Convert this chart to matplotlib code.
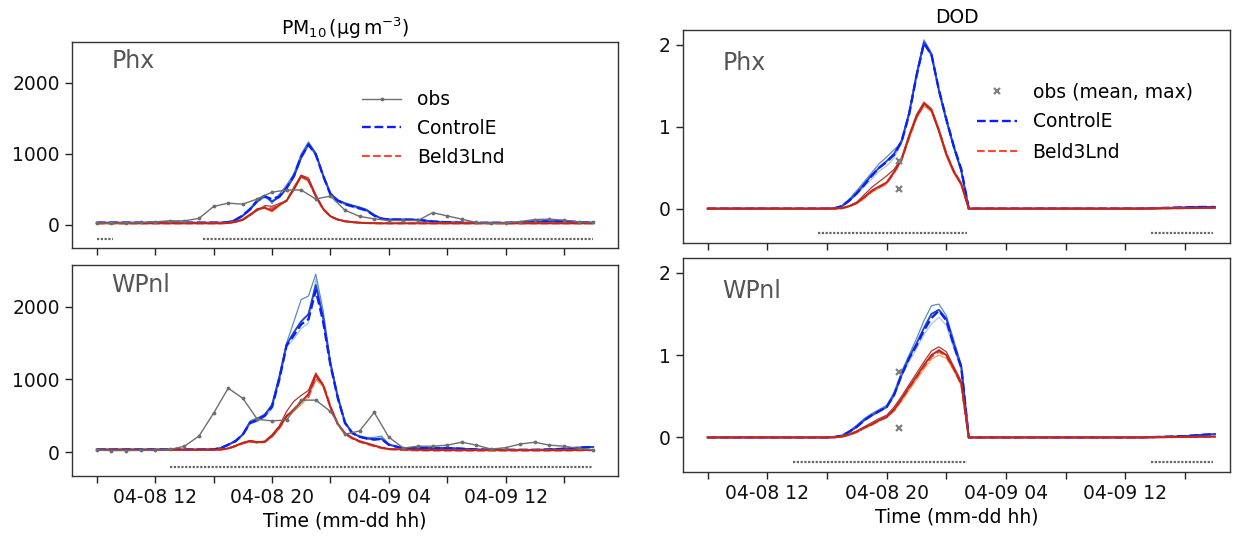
import matplotlib
matplotlib.use('Agg')
import matplotlib.pyplot as plt
from matplotlib.lines import Line2D

plt.rcParams['font.family'] = 'DejaVu Sans'
plt.rcParams['font.size'] = 13.5

# ---------------- time axes (hours after 04-08 08:00) ----------------
obs_hours = [0, 1, 2, 3, 4, 5, 6, 7, 8, 9, 10, 11, 12, 13, 14, 15, 16, 17, 18, 19, 20,
             21, 22, 23, 24, 25, 26, 27, 28, 29, 30, 31, 32, 33, 34]
model_hours = [0, 1, 2, 3, 4, 5, 6, 7, 8,
               8.5, 9, 9.5, 10, 10.5, 11, 11.5, 12, 12.5, 13, 13.5, 14, 14.5, 15, 15.5, 16,
               16.5, 17, 17.5, 18, 18.5, 19, 19.5, 20,
               21, 22, 23, 24, 25, 26, 27, 28, 29, 30, 31, 32, 33, 34]
tick_hours = [0, 4, 8, 12, 16, 20, 24, 28, 32]
tick_labels = ['', '04-08 12', '', '04-08 20', '', '04-09 04', '', '04-09 12', '']

# ---------------- PM10, Phx ----------------
phx_pm_obs = [23, 23, 23, 32, 42, 56, 56, 90, 258, 305, 290, 365, 460, 490, 490, 363, 405,
              205, 118, 83, 60, 60, 60, 171, 125, 79, 32, 18, 23, 46, 74, 79, 65, 42, 32]
phx_pm_ctl = [30, 30, 30, 30, 30, 30, 30, 30, 30,
              30, 35, 70, 130, 220, 340, 400, 360, 400, 520, 690, 960, 1130, 990, 690, 430,
              340, 290, 260, 230, 200, 130, 85, 74,
              72, 70, 45, 35, 30, 28, 28, 28, 32, 42, 48, 48, 38, 32]
phx_pm_ctl_solid = [30, 30, 30, 30, 30, 30, 30, 30, 30,
                    30, 35, 65, 125, 215, 335, 410, 330, 390, 515, 680, 950, 1140, 1000, 700, 440,
                    345, 300, 270, 240, 205, 135, 88, 75,
                    72, 70, 46, 36, 30, 28, 28, 28, 32, 40, 46, 46, 36, 30]
phx_pm_blue_m1 = [30, 30, 30, 30, 30, 30, 30, 30, 30,
                  30, 36, 75, 140, 235, 360, 420, 300, 430, 560, 720, 1000, 1170, 1010, 700, 450,
                  350, 310, 275, 250, 215, 140, 90, 78,
                  80, 75, 50, 38, 32, 30, 28, 30, 35, 55, 60, 55, 40, 32]
phx_pm_blue_m2 = [30, 30, 30, 30, 30, 30, 30, 30, 30,
                  30, 34, 68, 128, 210, 320, 380, 340, 380, 500, 670, 930, 1110, 980, 680, 420,
                  330, 280, 250, 220, 190, 125, 80, 70,
                  68, 66, 44, 34, 30, 28, 28, 28, 30, 40, 44, 44, 36, 30]
phx_pm_beld = [20, 20, 20, 20, 20, 20, 20, 20, 20,
               20, 25, 42, 72, 135, 210, 250, 230, 290, 340, 520, 680, 620, 400, 220, 118,
               72, 48, 36, 28, 24, 21, 20, 20,
               20, 20, 20, 20, 20, 20, 20, 20, 20, 20, 20, 20, 20, 20]
phx_pm_red_solid = [20, 20, 20, 20, 20, 20, 20, 20, 20,
                    20, 25, 40, 70, 140, 220, 240, 200, 280, 340, 500, 690, 630, 410, 225, 120,
                    75, 50, 38, 30, 25, 22, 20, 20,
                    20, 20, 20, 20, 20, 20, 20, 20, 20, 20, 20, 20, 20, 20]
phx_pm_red_m1 = [20, 20, 20, 20, 20, 20, 20, 20, 20,
                 20, 26, 45, 78, 150, 200, 270, 260, 300, 330, 530, 700, 660, 420, 230, 122,
                 74, 50, 37, 29, 24, 21, 20, 20,
                 20, 20, 20, 20, 20, 20, 20, 20, 20, 20, 20, 20, 20, 20]
phx_pm_red_m2 = [20, 20, 20, 20, 20, 20, 20, 20, 20,
                 20, 24, 38, 66, 130, 230, 230, 180, 260, 350, 490, 670, 610, 395, 218, 115,
                 70, 46, 35, 28, 23, 21, 20, 20,
                 20, 20, 20, 20, 20, 20, 20, 20, 20, 20, 20, 20, 20, 20]
phx_pm_avail = [(0, 1.1), (7.3, 34)]

# ---------------- PM10, WPnl ----------------
wp_pm_obs = [25, 20, 20, 22, 22, 35, 80, 220, 535, 880, 740, 450, 430, 440, 715, 715, 560,
             245, 290, 545, 205, 55, 80, 80, 95, 135, 95, 40, 60, 110, 135, 95, 80, 50, 30]
wp_pm_ctl = [35, 35, 35, 35, 35, 35, 35, 35, 37,
             55, 100, 150, 240, 400, 440, 500, 620, 1000, 1470, 1610, 1760, 1830, 2230, 1800, 1200,
             750, 400, 260, 210, 185, 172, 180, 100,
             50, 55, 55, 55, 45, 35, 32, 30, 30, 30, 35, 45, 60, 70]
wp_pm_ctl_solid = [35, 35, 35, 35, 35, 35, 35, 35, 37,
                   55, 100, 150, 240, 410, 450, 510, 640, 1020, 1480, 1650, 1800, 1900, 2300, 1850, 1220,
                   760, 405, 262, 212, 186, 174, 182, 102,
                   50, 55, 55, 55, 45, 35, 32, 30, 30, 30, 35, 45, 60, 70]
wp_pm_blue_m1 = [35, 35, 35, 35, 35, 35, 35, 35, 38,
                 55, 105, 160, 250, 430, 470, 520, 660, 1060, 1500, 1800, 2100, 2150, 2450, 1950, 1250,
                 780, 420, 270, 220, 200, 200, 220, 110,
                 50, 58, 60, 58, 48, 36, 32, 30, 30, 30, 36, 46, 62, 72]
wp_pm_blue_m2 = [35, 35, 35, 35, 35, 35, 35, 35, 36,
                 52, 95, 140, 230, 390, 420, 480, 600, 980, 1450, 1560, 1700, 1780, 2380, 1900, 1220,
                 740, 395, 255, 205, 190, 185, 200, 100,
                 50, 54, 54, 54, 44, 35, 32, 30, 30, 30, 34, 44, 58, 68]
wp_pm_beld = [30, 30, 30, 30, 30, 30, 30, 30, 30,
              34, 48, 80, 120, 145, 130, 138, 215, 330, 490, 590, 700, 760, 1020, 940, 630,
              385, 250, 185, 140, 110, 80, 55, 38,
              28, 22, 20, 20, 20, 20, 20, 20, 20, 20, 20, 20, 22, 25]
wp_pm_red_solid = [30, 30, 30, 30, 30, 30, 30, 30, 30,
                   35, 50, 85, 125, 150, 135, 140, 220, 340, 500, 580, 690, 800, 1060, 920, 620,
                   390, 260, 195, 150, 120, 90, 60, 42,
                   35, 30, 28, 26, 25, 25, 25, 25, 25, 25, 25, 25, 28, 30]
wp_pm_red_m1 = [30, 30, 30, 30, 30, 30, 30, 30, 30,
                36, 52, 88, 130, 160, 140, 150, 240, 360, 560, 700, 780, 850, 1090, 930, 620,
                390, 255, 190, 145, 115, 85, 58, 40,
                35, 30, 28, 26, 25, 25, 25, 25, 25, 25, 25, 25, 28, 30]
wp_pm_red_m2 = [30, 30, 30, 30, 30, 30, 30, 30, 30,
                33, 46, 80, 118, 140, 128, 135, 210, 320, 480, 560, 650, 760, 1000, 900, 610,
                380, 250, 190, 145, 118, 88, 58, 40,
                35, 30, 28, 26, 25, 25, 25, 25, 25, 25, 25, 25, 28, 30]
wp_pm_avail = [(5.0, 34)]

# ---------------- DOD, Phx ----------------
phx_dod_obs_hour = [12.8, 12.8]
phx_dod_obs = [0.585, 0.245]
phx_dod_ctl = [0, 0, 0, 0, 0, 0, 0, 0, 0,
               0.005, 0.03, 0.10, 0.19, 0.29, 0.40, 0.50, 0.57, 0.66, 0.82, 1.15, 1.62, 2.02, 1.88, 1.45, 1.09,
               0.76, 0.48, 0, 0, 0, 0, 0, 0,
               0, 0, 0, 0, 0, 0, 0, 0, 0, 0.005, 0.01, 0.015, 0.02, 0.02]
phx_dod_ctl_solid = [0, 0, 0, 0, 0, 0, 0, 0, 0,
                     0.005, 0.03, 0.10, 0.19, 0.30, 0.41, 0.50, 0.58, 0.67, 0.83, 1.16, 1.63, 2.03, 1.88, 1.44, 1.08,
                     0.75, 0.46, 0, 0, 0, 0, 0, 0,
                     0, 0, 0, 0, 0, 0, 0, 0, 0, 0.005, 0.01, 0.015, 0.02, 0.02]
phx_dod_blue_m1 = [0, 0, 0, 0, 0, 0, 0, 0, 0,
                   0.006, 0.035, 0.12, 0.22, 0.33, 0.44, 0.55, 0.63, 0.72, 0.80, 1.18, 1.65, 2.06, 1.90, 1.46, 1.10,
                   0.77, 0.48, 0, 0, 0, 0, 0, 0,
                   0, 0, 0, 0, 0, 0, 0, 0, 0, 0.005, 0.01, 0.015, 0.02, 0.02]
phx_dod_blue_m2 = [0, 0, 0, 0, 0, 0, 0, 0, 0,
                   0.004, 0.025, 0.09, 0.17, 0.27, 0.36, 0.46, 0.52, 0.62, 0.80, 1.12, 1.60, 2.00, 1.86, 1.44, 1.07,
                   0.74, 0.46, 0, 0, 0, 0, 0, 0,
                   0, 0, 0, 0, 0, 0, 0, 0, 0, 0.004, 0.008, 0.012, 0.016, 0.018]
phx_dod_beld = [0, 0, 0, 0, 0, 0, 0, 0, 0,
                0, 0.005, 0.03, 0.07, 0.14, 0.21, 0.26, 0.31, 0.44, 0.60, 0.87, 1.12, 1.27, 1.21, 0.96, 0.67,
                0.46, 0.30, 0, 0, 0, 0, 0, 0,
                0, 0, 0, 0, 0, 0, 0, 0, 0, 0.002, 0.004, 0.006, 0.008, 0.01]
phx_dod_red_solid = [0, 0, 0, 0, 0, 0, 0, 0, 0,
                     0, 0.005, 0.03, 0.07, 0.14, 0.22, 0.27, 0.32, 0.45, 0.60, 0.88, 1.12, 1.28, 1.20, 0.95, 0.66,
                     0.45, 0.30, 0, 0, 0, 0, 0, 0,
                     0, 0, 0, 0, 0, 0, 0, 0, 0, 0.002, 0.004, 0.006, 0.008, 0.01]
phx_dod_red_m1 = [0, 0, 0, 0, 0, 0, 0, 0, 0,
                  0, 0.006, 0.035, 0.08, 0.17, 0.26, 0.33, 0.40, 0.48, 0.62, 0.90, 1.15, 1.30, 1.22, 0.97, 0.68,
                  0.46, 0.31, 0, 0, 0, 0, 0, 0,
                  0, 0, 0, 0, 0, 0, 0, 0, 0, 0.002, 0.004, 0.006, 0.008, 0.01]
phx_dod_red_m2 = [0, 0, 0, 0, 0, 0, 0, 0, 0,
                  0, 0.004, 0.025, 0.06, 0.12, 0.20, 0.25, 0.30, 0.43, 0.58, 0.85, 1.10, 1.25, 1.18, 0.93, 0.64,
                  0.43, 0.28, 0, 0, 0, 0, 0, 0,
                  0, 0, 0, 0, 0, 0, 0, 0, 0, 0.002, 0.004, 0.006, 0.008, 0.01]
phx_dod_avail = [(7.4, 17.4), (29.7, 33.9)]

# ---------------- DOD, WPnl ----------------
wp_dod_obs_hour = [12.8, 12.8]
wp_dod_obs = [0.79, 0.12]
wp_dod_ctl = [0, 0, 0, 0, 0, 0, 0, 0, 0,
              0.005, 0.02, 0.07, 0.13, 0.21, 0.27, 0.32, 0.37, 0.52, 0.76, 0.96, 1.12, 1.30, 1.45, 1.54, 1.42,
              1.12, 0.85, 0, 0, 0, 0, 0, 0,
              0, 0, 0, 0, 0, 0, 0, 0, 0, 0.005, 0.01, 0.015, 0.03, 0.04]
wp_dod_ctl_solid = [0, 0, 0, 0, 0, 0, 0, 0, 0,
                    0.005, 0.02, 0.07, 0.13, 0.21, 0.27, 0.32, 0.37, 0.52, 0.76, 0.97, 1.14, 1.33, 1.50, 1.55, 1.44,
                    1.13, 0.86, 0, 0, 0, 0, 0, 0,
                    0, 0, 0, 0, 0, 0, 0, 0, 0, 0.005, 0.01, 0.015, 0.03, 0.04]
wp_dod_blue_m1 = [0, 0, 0, 0, 0, 0, 0, 0, 0,
                  0.006, 0.025, 0.08, 0.15, 0.23, 0.29, 0.34, 0.39, 0.55, 0.80, 1.00, 1.20, 1.42, 1.60, 1.62, 1.48,
                  1.18, 0.88, 0, 0, 0, 0, 0, 0,
                  0, 0, 0, 0, 0, 0, 0, 0, 0, 0.005, 0.01, 0.015, 0.03, 0.04]
wp_dod_blue_m2 = [0, 0, 0, 0, 0, 0, 0, 0, 0,
                  0.004, 0.018, 0.06, 0.12, 0.20, 0.26, 0.31, 0.36, 0.50, 0.74, 0.92, 1.08, 1.25, 1.38, 1.46, 1.36,
                  1.08, 0.82, 0, 0, 0, 0, 0, 0,
                  0, 0, 0, 0, 0, 0, 0, 0, 0, 0.004, 0.008, 0.012, 0.025, 0.035]
wp_dod_beld = [0, 0, 0, 0, 0, 0, 0, 0, 0,
               0.002, 0.01, 0.033, 0.068, 0.115, 0.155, 0.205, 0.245, 0.33, 0.46, 0.60, 0.73, 0.86, 0.98, 1.04, 0.99,
               0.83, 0.64, 0, 0, 0, 0, 0, 0,
               0, 0, 0, 0, 0, 0, 0, 0, 0, 0.002, 0.004, 0.006, 0.008, 0.01]
wp_dod_red_solid = [0, 0, 0, 0, 0, 0, 0, 0, 0,
                    0.002, 0.01, 0.035, 0.07, 0.12, 0.16, 0.21, 0.25, 0.34, 0.47, 0.61, 0.74, 0.88, 1.00, 1.06, 1.00,
                    0.84, 0.66, 0, 0, 0, 0, 0, 0,
                    0, 0, 0, 0, 0, 0, 0, 0, 0, 0.002, 0.004, 0.006, 0.008, 0.01]
wp_dod_red_m1 = [0, 0, 0, 0, 0, 0, 0, 0, 0,
                 0.003, 0.012, 0.04, 0.08, 0.13, 0.18, 0.23, 0.27, 0.37, 0.50, 0.64, 0.78, 0.92, 1.05, 1.10, 1.04,
                 0.86, 0.68, 0, 0, 0, 0, 0, 0,
                 0, 0, 0, 0, 0, 0, 0, 0, 0, 0.002, 0.004, 0.006, 0.008, 0.01]
wp_dod_red_m2 = [0, 0, 0, 0, 0, 0, 0, 0, 0,
                 0.002, 0.009, 0.03, 0.06, 0.11, 0.15, 0.20, 0.24, 0.32, 0.44, 0.57, 0.70, 0.83, 0.95, 1.00, 0.96,
                 0.81, 0.63, 0, 0, 0, 0, 0, 0,
                 0, 0, 0, 0, 0, 0, 0, 0, 0, 0.002, 0.004, 0.006, 0.008, 0.01]
wp_dod_avail = [(5.7, 17.4), (29.7, 33.9)]

# ---------------- styles ----------------
C_OBS = '#6e6e6e'
C_BLUE = '#0a1eff'
C_BLUE_SOLID = '#2048c0'
C_BLUE_M1 = '#5a8bbf'
C_BLUE_M2 = '#a8c6e4'
C_RED = '#f44a38'
C_RED_SOLID = '#c0261c'
C_RED_M1 = '#a83a3a'
C_RED_M2 = '#f6a25a'
C_LABEL = '#555555'
C_SPINE = '#333333'

fig = plt.figure(figsize=(12.41, 5.36), dpi=100)
ax_pm_phx = fig.add_axes([0.058, 0.537, 0.440, 0.385])
ax_pm_wp = fig.add_axes([0.058, 0.112, 0.440, 0.394])
ax_dod_phx = fig.add_axes([0.5504, 0.5466, 0.4406, 0.3974])
ax_dod_wp = fig.add_axes([0.5504, 0.1194, 0.4406, 0.3993])


def draw_models(ax, ctl, ctl_solid, bm1, bm2, beld, rsolid, rm1, rm2):
    ax.plot(model_hours, bm2, color=C_BLUE_M2, lw=0.9, zorder=2)
    ax.plot(model_hours, bm1, color=C_BLUE_M1, lw=0.9, zorder=2)
    ax.plot(model_hours, ctl_solid, color=C_BLUE_SOLID, lw=1.4, zorder=3)
    ax.plot(model_hours, ctl, color=C_BLUE, lw=1.7, ls='--', zorder=4)
    ax.plot(model_hours, rm2, color=C_RED_M2, lw=0.9, zorder=5)
    ax.plot(model_hours, rm1, color=C_RED_M1, lw=0.9, zorder=5)
    ax.plot(model_hours, beld, color=C_RED, lw=1.5, ls='--', zorder=6)
    ax.plot(model_hours, rsolid, color=C_RED_SOLID, lw=1.4, zorder=6)


def draw_avail(ax, segs, yval):
    for s, e in segs:
        ax.plot([s, e], [yval, yval], color='#666666', lw=1.6,
                ls=(0, (1.0, 0.7)), solid_capstyle='butt', zorder=2)


def style(ax, name, label_y, show_xlabels, xlim):
    ax.set_xlim(*xlim)
    ax.set_xticks(tick_hours)
    if show_xlabels:
        ax.set_xticklabels(tick_labels)
        ax.set_xlabel('Time (mm-dd hh)', labelpad=3)
    else:
        ax.set_xticklabels([])
    ax.tick_params(axis='both', length=5.2, width=1.0, color='#222222', labelcolor='#111111')
    for sp in ax.spines.values():
        sp.set_color(C_SPINE)
        sp.set_linewidth(1.0)
    ax.text(0.072, label_y, name, transform=ax.transAxes, fontsize=17,
            color=C_LABEL, ha='left', va='center')


# PM10 panels
ax_pm_phx.plot(obs_hours, phx_pm_obs, color=C_OBS, lw=1.0, marker='.', ms=3.5, zorder=7)
draw_models(ax_pm_phx, phx_pm_ctl, phx_pm_ctl_solid, phx_pm_blue_m1, phx_pm_blue_m2,
            phx_pm_beld, phx_pm_red_solid, phx_pm_red_m1, phx_pm_red_m2)
draw_avail(ax_pm_phx, phx_pm_avail, -200)

ax_pm_wp.plot(obs_hours, wp_pm_obs, color=C_OBS, lw=1.0, marker='.', ms=3.5, zorder=7)
draw_models(ax_pm_wp, wp_pm_ctl, wp_pm_ctl_solid, wp_pm_blue_m1, wp_pm_blue_m2,
            wp_pm_beld, wp_pm_red_solid, wp_pm_red_m1, wp_pm_red_m2)
draw_avail(ax_pm_wp, wp_pm_avail, -200)

for ax in (ax_pm_phx, ax_pm_wp):
    ax.set_ylim(-330, 2580)
    ax.set_yticks([0, 1000, 2000])
style(ax_pm_phx, 'Phx', 0.905, False, (-1.7, 35.7))
style(ax_pm_wp, 'WPnl', 0.905, True, (-1.7, 35.7))
ax_pm_phx.set_title(r'PM$_{10}\,(\mathrm{\mu g\,m^{-3}})$', fontsize=13.5, pad=5)

h_obs = Line2D([], [], color=C_OBS, lw=1.0, marker='.', ms=3.5)
h_b = Line2D([], [], color=C_BLUE, lw=1.7, ls='--')
h_r = Line2D([], [], color=C_RED, lw=1.5, ls='--')
ax_pm_phx.legend([h_obs, h_b, h_r], ['obs', 'ControlE', 'Beld3Lnd'], loc='upper left',
                 bbox_to_anchor=(0.531, 0.766), frameon=False, borderpad=0, borderaxespad=0,
                 handlelength=2.1, handletextpad=0.85, labelspacing=0.52, fontsize=13.5)

# DOD panels
ax_dod_phx.plot(phx_dod_obs_hour, phx_dod_obs, ls='none', marker='x', ms=5, mew=1.6,
                color='#808080', zorder=8)
draw_models(ax_dod_phx, phx_dod_ctl, phx_dod_ctl_solid, phx_dod_blue_m1, phx_dod_blue_m2,
            phx_dod_beld, phx_dod_red_solid, phx_dod_red_m1, phx_dod_red_m2)
draw_avail(ax_dod_phx, phx_dod_avail, -0.3)

ax_dod_wp.plot(wp_dod_obs_hour, wp_dod_obs, ls='none', marker='x', ms=5, mew=1.6,
               color='#808080', zorder=8)
draw_models(ax_dod_wp, wp_dod_ctl, wp_dod_ctl_solid, wp_dod_blue_m1, wp_dod_blue_m2,
            wp_dod_beld, wp_dod_red_solid, wp_dod_red_m1, wp_dod_red_m2)
draw_avail(ax_dod_wp, wp_dod_avail, -0.3)

for ax in (ax_dod_phx, ax_dod_wp):
    ax.set_ylim(-0.42, 2.18)
    ax.set_yticks([0, 1, 2])
style(ax_dod_phx, 'Phx', 0.845, False, (-1.65, 35.0))
style(ax_dod_wp, 'WPnl', 0.845, True, (-1.65, 35.0))
ax_dod_phx.set_title('DOD', fontsize=13.5, pad=5)

h_x = Line2D([], [], color='#808080', ls='none', marker='x', ms=5, mew=1.6)
ax_dod_phx.legend([h_x, h_b, h_r], ['obs (mean, max)', 'ControlE', 'Beld3Lnd'], loc='upper left',
                  bbox_to_anchor=(0.538, 0.755), frameon=False, borderpad=0, borderaxespad=0,
                  handlelength=2.1, handletextpad=0.85, labelspacing=0.6, fontsize=13.5)

fig.savefig('out.png', dpi=100)
